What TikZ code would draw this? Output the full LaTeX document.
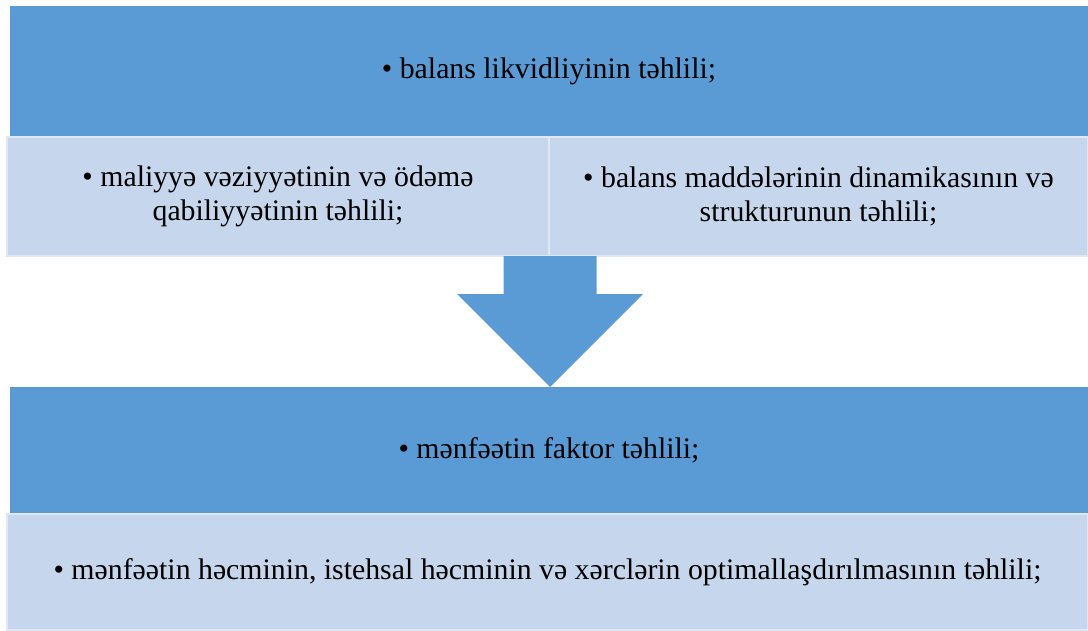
\documentclass[tikz,border=0pt]{standalone}
\usepackage{fontspec}
\setmainfont{Liberation Serif}
\usepackage{tikz}
\usetikzlibrary{positioning}
\definecolor{boxdark}{HTML}{5B9BD5}
\definecolor{boxlight}{HTML}{C6D6EC}
\begin{document}
\begin{tikzpicture}
[x=0.5pt,y=-0.5pt,
 box/.style={inner sep=0pt,outer sep=0pt,align=center,
   font=\fontsize{14.9}{16.8}\selectfont},
 dark/.style={box,fill=boxdark},
 light/.style={box,fill=boxlight,draw=white!45!boxlight,line width=0.6pt}]
\useasboundingbox (0,0) rectangle (1088,631);

\node[dark,minimum width=539pt,minimum height=65.5pt] (top) at (549,71.5)
{\textbullet{} balans likvidliyinin təhlili;};
\node[light,minimum width=271pt,minimum height=59.5pt] (upL) at (278,196.5)
{\textbullet{} maliyyə vəziyyətinin və ödəmə\\ qabiliyyətinin təhlili;};
\node[light,minimum width=269.5pt,minimum height=59.5pt] (upR) at (818.5,196.5)
{\textbullet{} balans maddələrinin dinamikasının və\\ strukturunun təhlili;};

\node[dark,minimum width=539pt,minimum height=63.5pt] (bot) at (549,450.5)
{\textbullet{} mənfəətin faktor təhlili;};
\node[light,minimum width=540.5pt,minimum height=58pt] (botL) at (547.5,572)
{\textbullet{} mənfəətin həcminin, istehsal həcminin və xərclərin optimallaşdırılmasının təhlili;};

% block arrow
\coordinate (tip) at (550,387);
\fill[boxdark] (503.5,256) -- (596.5,256) -- (596.5,294) -- (643,294) -- (tip)
  -- (457,294) -- (503.5,294) -- cycle;
\end{tikzpicture}
\end{document}
